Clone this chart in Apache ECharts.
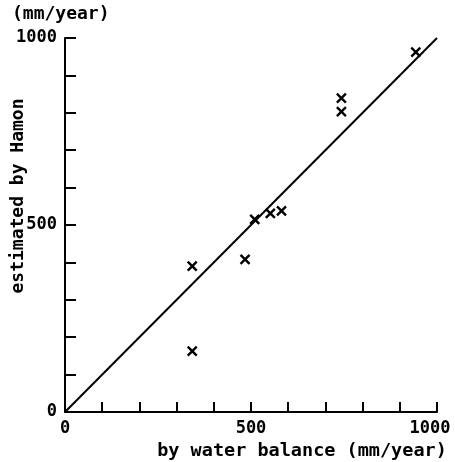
<!DOCTYPE html>
<html>
<head>
<meta charset="utf-8">
<script src="https://cdn.jsdelivr.net/npm/echarts@6/dist/echarts.min.js"></script>
<style>html,body{margin:0;padding:0;background:#fff}#c{width:455px;height:462px}</style>
</head>
<body>
<div id="c"></div>
<script>
// Observed points: [by water balance, estimated by Hamon] (mm/year)
const waterBalance = [342, 342, 484, 510, 552, 582, 743, 743, 943];
const hamon        = [390, 163, 408, 515, 531, 538, 839, 803, 962];
// 1:1 reference line
const refLineX = [0, 1000];
const refLineY = [0, 1000];
const xTicks = [0, 500, 1000];
const yTicks = [0, 500, 1000];

const FONT = 'DejaVu Sans Mono';
const chart = echarts.init(document.getElementById('c'), null, {renderer: 'canvas'});
const crossPath = 'path://M0,0L10,10M10,0L0,10';

chart.setOption({
  animation: false,
  backgroundColor: '#fff',
  grid: {left: 65, right: 18, top: 38, bottom: 50, containLabel: false, outerBoundsMode: 'none'},
  graphic: [{
    type: 'text', left: 12, top: 5,
    style: {text: '(mm/year)', font: 'bold 18px "' + FONT + '"', fill: '#000'}
  }, {
    type: 'text', x: 18, y: 196, rotation: Math.PI / 2,
    style: {text: 'estimated by Hamon', font: 'bold 18px "' + FONT + '"', fill: '#000',
            align: 'center', verticalAlign: 'middle'}
  }],
  xAxis: {
    type: 'value', min: 0, max: 1000, interval: 100,
    name: 'by water balance (mm/year)', nameLocation: 'middle', nameGap: 29,
    nameTextStyle: {fontFamily: FONT, fontWeight: 'bold', fontSize: 18.5, color: '#000', padding: [0, 0, 0, 102]},
    axisLine: {show: true, lineStyle: {color: '#000', width: 2}},
    axisTick: {show: true, inside: true, length: 10, lineStyle: {color: '#000', width: 2}},
    axisLabel: {
      margin: 8, color: '#000', fontFamily: FONT, fontWeight: 'bold', fontSize: 17,
      formatter: v => !xTicks.includes(v) ? '' : (v === 1000 ? '{m|' + v + '}' : String(v)),
      rich: {m: {fontFamily: FONT, fontWeight: 'bold', fontSize: 17, color: '#000', padding: [0, 14, 0, 0]}}
    },
    splitLine: {show: false}
  },
  yAxis: {
    type: 'value', min: 0, max: 1000, interval: 100,
    axisLine: {show: true, lineStyle: {color: '#000', width: 2}},
    axisTick: {show: true, inside: true, length: 11, lineStyle: {color: '#000', width: 2}},
    axisLabel: {
      margin: 8, color: '#000', fontFamily: FONT, fontWeight: 'bold', fontSize: 17,
      padding: [0, 0, 5, 0],
      formatter: v => yTicks.includes(v) ? String(v) : ''
    },
    splitLine: {show: false}
  },
  series: [{
    type: 'line',
    data: refLineX.map((x, i) => [x, refLineY[i]]),
    showSymbol: false, symbol: 'none',
    lineStyle: {color: '#000', width: 2},
    silent: true, z: 1
  }, {
    type: 'scatter',
    data: waterBalance.map((x, i) => [x, hamon[i]]),
    symbol: crossPath, symbolSize: 9,
    itemStyle: {color: 'rgba(0,0,0,0)', borderColor: '#000', borderWidth: 2.4, opacity: 1},
    z: 3
  }]
});
</script>
</body>
</html>
